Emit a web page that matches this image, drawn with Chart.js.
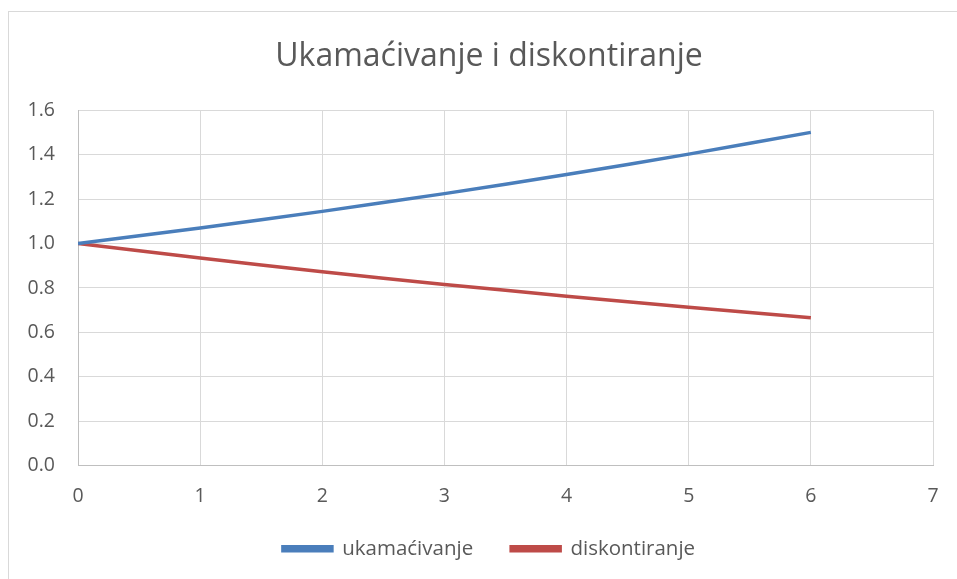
<!DOCTYPE html>
<html>
<head>
<meta charset="utf-8">
<script src="https://cdn.jsdelivr.net/npm/chart.js@4"></script>
<style>
html,body{margin:0;padding:0;background:#fff;}
#wrap{position:relative;width:957px;height:579px;overflow:hidden;}
#frame{position:absolute;left:8px;top:11px;width:1000px;height:1000px;border:1px solid #d9d9d9;box-sizing:border-box;}
canvas{position:absolute;left:0;top:0;}
</style>
</head>
<body>
<div id="wrap"><div id="frame"></div><canvas id="c" width="970" height="579"></canvas></div>
<script>
const years = [0, 1, 2, 3, 4, 5, 6];
const ukamacivanje = [1.000, 1.070, 1.145, 1.225, 1.311, 1.403, 1.501];
const diskontiranje = [1.000, 0.935, 0.873, 0.816, 0.763, 0.713, 0.666];
const seriesNames = ['ukamaćivanje', 'diskontiranje'];
const titleText = 'Ukamaćivanje i diskontiranje';

const FONT = 'Open Sans';
const GREY = '#595959';

new Chart(document.getElementById('c'), {
  type: 'line',
  data: {
    datasets: [
      { label: seriesNames[0], data: years.map((x,i)=>({x, y: ukamacivanje[i]})),
        borderColor: '#4a7ebb', backgroundColor: '#4a7ebb', borderWidth: 3.5, pointRadius: 0, tension: 0.2 },
      { label: seriesNames[1], data: years.map((x,i)=>({x, y: diskontiranje[i]})),
        borderColor: '#be4b48', backgroundColor: '#be4b48', borderWidth: 3.5, pointRadius: 0, tension: 0.2 }
    ]
  },
  options: {
    responsive: false,
    animation: false,
    layout: { padding: { left: 8, right: 0, top: 20, bottom: 10 } },
    plugins: {
      title: { display: true, text: titleText, color: GREY,
        font: { family: FONT, size: 32, weight: 'normal' }, padding: { top: 18, bottom: 34 } },
      legend: { position: 'bottom',
        labels: { color: GREY, boxWidth: 49, boxHeight: 4, padding: 38,
          font: { family: FONT, size: 20.5 } } },
      tooltip: { enabled: false }
    },
    scales: {
      x: { type: 'linear', min: 0, max: 7,
        ticks: { stepSize: 1, color: GREY, font: { family: FONT, size: 19.5 }, padding: 19 },
        grid: { color: '#d9d9d9', lineWidth: 1, tickLength: 0 },
        border: { color: '#bfbfbf', width: 1 },
        afterFit: s => { s.height = 35; s._computeLabelArea = () => undefined; } },
      y: { min: 0, max: 1.6,
        ticks: { stepSize: 0.2, color: GREY, font: { family: FONT, size: 19.5 }, padding: 23,
          callback: v => v.toFixed(1) },
        grid: { color: '#d9d9d9', lineWidth: 1, tickLength: 0 },
        border: { color: '#bfbfbf', width: 1 },
        afterFit: s => { s.width = 70; } },
      yRight: { position: 'right', display: true,
        ticks: { display: false }, grid: { display: false }, border: { display: false },
        afterFit: s => { s.width = 37; } }
    }
  }
});
</script>
</body>
</html>
